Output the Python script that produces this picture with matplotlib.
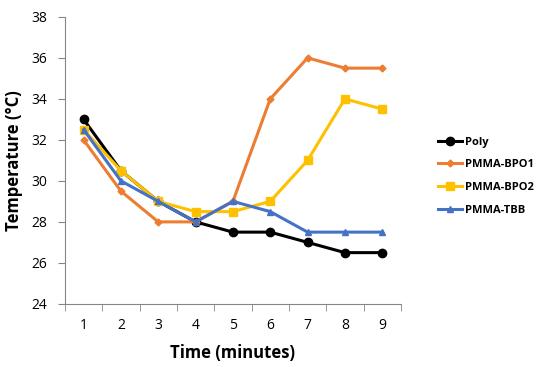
import matplotlib
matplotlib.use("Agg")
import matplotlib.pyplot as plt
import numpy as np

plt.rcParams['font.family'] = ['Open Sans', 'DejaVu Sans']

time_labels = ["1", "2", "3", "4", "5", "6", "7", "8", "9"]
poly = [33, 30.5, 29, 28, 27.5, 27.5, 27, 26.5, 26.5]
bpo1 = [32, 29.5, 28, 28, 29, 34, 36, 35.5, 35.5]
bpo2 = [32.5, 30.5, 29, 28.5, 28.5, 29, 31, 34, 33.5]
tbb = [32.5, 30, 29, 28, 29, 28.5, 27.5, 27.5, 27.5]

fig = plt.figure(figsize=(5.5, 3.67), dpi=100)
ax = fig.add_axes([0.118, 0.172, 0.611, 0.782])

x = np.arange(1, len(time_labels) + 1)
ax.plot(x, poly, color="black", marker="o", markersize=6, lw=2.2, label="Poly", zorder=3)
ax.plot(x, bpo1, color="#ED7D31", marker="D", markersize=3.5, lw=2.2, label="PMMA-BPO1", zorder=4)
ax.plot(x, bpo2, color="#FFC000", marker="s", markersize=6, lw=2.2, label="PMMA-BPO2", zorder=5)
ax.plot(x, tbb, color="#4472C4", marker="^", markersize=5, lw=2.2, label="PMMA-TBB", zorder=6)

ax.set_xlim(0.5, 9.5)
ax.set_ylim(24, 38)
ax.set_yticks(np.arange(24, 39, 2))
ax.set_xticks(x)
ax.set_xticklabels(time_labels)
ax.set_xticks(np.arange(0.5, 10, 1), minor=True)
ax.tick_params(axis='x', which='major', length=0, pad=10, labelsize=10)
ax.tick_params(axis='x', which='minor', length=5, color="#868686", direction='out')
ax.tick_params(axis='y', length=5, color="#868686", labelsize=10, pad=8)

for s in ["top", "right"]:
    ax.spines[s].set_visible(False)
for s in ["left", "bottom"]:
    ax.spines[s].set_color("#868686")

ax.set_xlabel("Time (minutes)", fontsize=12, fontweight="bold", labelpad=8)
ax.set_ylabel("Temperature (°C)", fontsize=12, fontweight="bold", labelpad=6)

ax.legend(loc="center left", bbox_to_anchor=(1.11, 0.445), frameon=False,
          handlelength=2.2, labelspacing=1.05, handletextpad=0.2,
          borderaxespad=0, borderpad=0,
          prop={'weight': 'bold', 'size': 8})

fig.savefig("out.png", dpi=100)
